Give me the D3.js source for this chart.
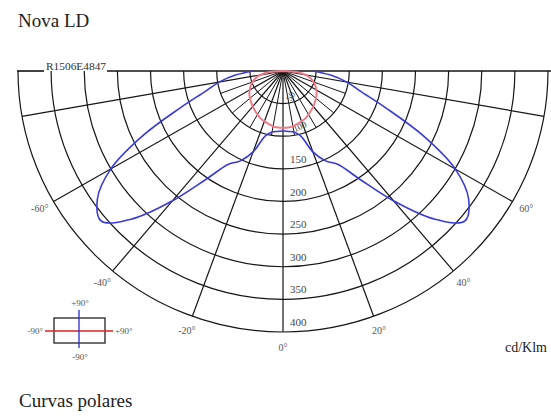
<!doctype html>
<html lang="en">
<head>
  <meta charset="utf-8">
  <script src="https://d3js.org/d3.v7.min.js"></script>
  <style>
    body { margin: 0; background: #fff; }
    text { font-family: "Liberation Serif", "Times New Roman", serif; }
  </style>
</head>
<body>
  <script>
    var width = 551,
        height = 416;

    // data (cd/klm)
    var rings = [50, 100, 150, 200, 250, 300, 350, 400];
    var majorAngles = [-80, -60, -40, -20, 0, 20, 40, 60, 80];
    var minorAngles = [-70, -50, -30, -10, 10, 30, 50, 70];
    var angleLabels = [-60, -40, -20, 0, 20, 40, 60];
    var curveAngles = [-90, -85, -80, -75, -70, -65, -60, -55, -50, -45, -40, -35, -30, -25, -20, -15, -10, -5, 0,
                       5, 10, 15, 20, 25, 30, 35, 40, 45, 50, 55, 60, 65, 70, 75, 80, 85, 90];
    var planeC0 = [45, 72, 98, 122, 165, 232, 300, 342, 358, 320, 260, 203, 165, 152, 132, 103, 95, 93, 92,
                   93, 95, 103, 132, 152, 165, 203, 260, 320, 358, 342, 300, 232, 165, 122, 98, 72, 45];
    var planeC90 = [0, 22, 35, 43, 49, 54, 58, 62, 65, 68, 71, 74, 77, 80, 82, 84, 86, 87, 87,
                    87, 86, 84, 82, 80, 77, 74, 71, 68, 65, 62, 58, 54, 49, 43, 35, 22, 0];

    var cx = 283, cy = 71;
    var rx = d3.scaleLinear().domain([0, 400]).range([0, 265]);
    var ry = d3.scaleLinear().domain([0, 400]).range([0, 261]);

    function px(a, v) { return cx + rx(v) * Math.sin(a * Math.PI / 180); }
    function py(a, v) { return cy + ry(v) * Math.cos(a * Math.PI / 180); }

    var svg = d3.select("body").append("svg")
        .attr("width", width)
        .attr("height", height);

    // titles
    svg.append("text").attr("x", 18).attr("y", 27)
        .style("font-size", "19px").style("fill", "#222").text("Nova LD");
    svg.append("text").attr("x", 19).attr("y", 407)
        .style("font-size", "19px").style("fill", "#222").text("Curvas polares");

    var grid = svg.append("g").style("fill", "none").style("stroke", "#151515");

    // rings (lower half ellipses)
    grid.selectAll("path.ring")
        .data(rings)
      .enter().append("path")
        .attr("class", "ring")
        .attr("d", function(d) {
          return "M" + (cx - rx(d)) + "," + cy + "A" + rx(d) + "," + ry(d) + " 0 0 0 " + (cx + rx(d)) + "," + cy;
        })
        .style("stroke-width", 1.2);

    // radial lines
    grid.selectAll("line.major")
        .data(majorAngles)
      .enter().append("line")
        .attr("x1", cx).attr("y1", cy)
        .attr("x2", function(d) { return px(d, 400); })
        .attr("y2", function(d) { return py(d, 400); })
        .style("stroke-width", 1.2);
    grid.selectAll("line.minor")
        .data(minorAngles)
      .enter().append("line")
        .attr("x1", cx).attr("y1", cy)
        .attr("x2", function(d) { return px(d, 100); })
        .attr("y2", function(d) { return py(d, 100); })
        .style("stroke-width", 1);

    // top axis line with the reference code
    grid.append("line").attr("x1", 17).attr("y1", cy).attr("x2", 44).attr("y2", cy).style("stroke-width", 1.6);
    grid.append("line").attr("x1", 107).attr("y1", cy).attr("x2", 551).attr("y2", cy).style("stroke-width", 1.6);
    svg.append("text").attr("x", 46).attr("y", 70)
        .attr("textLength", 60).attr("lengthAdjust", "spacingAndGlyphs")
        .style("font-size", "10px").style("fill", "#333").text("R1506E4847");

    // ring labels
    svg.selectAll("text.ring")
        .data(rings)
      .enter().append("text")
        .attr("class", "ring")
        .attr("transform", function(d) {
          if (d === 50) return "translate(" + (cx + 8) + "," + (cy + ry(d) - 2) + ") rotate(-60)";
          if (d === 100) return "translate(" + (cx + 12) + "," + (cy + ry(d) - 4) + ") rotate(-25)";
          return "translate(" + (cx + 7) + "," + (cy + ry(d) - 6) + ")";
        })
        .style("font-size", function(d) { return d <= 100 ? "9px" : "11px"; })
        .style("fill", "#444")
        .text(function(d) { return d; });

    // angle labels
    svg.selectAll("text.angle")
        .data(angleLabels)
      .enter().append("text")
        .attr("x", function(d) { return px(d, 424); })
        .attr("y", function(d) { return py(d, 424) + 3; })
        .attr("text-anchor", "middle")
        .style("font-size", "10px")
        .style("fill", "#555")
        .text(function(d) { return d + "\u00b0"; });

    // curves
    var line = d3.line()
        .x(function(d) { return px(d[0], d[1]); })
        .y(function(d) { return py(d[0], d[1]); })
        .curve(d3.curveCatmullRom);

    svg.append("path")
        .datum(d3.zip(curveAngles, planeC90))
        .attr("d", line)
        .style("fill", "none").style("stroke", "#ee7a86").style("stroke-width", 1.9);
    svg.append("path")
        .datum(d3.zip(curveAngles, planeC0))
        .attr("d", line)
        .style("fill", "none").style("stroke", "#3a3ad6").style("stroke-width", 1.6);

    // legend box
    var lg = svg.append("g");
    lg.append("rect").attr("x", 54).attr("y", 318).attr("width", 51).attr("height", 25)
        .style("fill", "none").style("stroke", "#222").style("stroke-width", 1.3);
    lg.append("line").attr("x1", 45).attr("y1", 331).attr("x2", 113).attr("y2", 331)
        .style("stroke", "#e02020").style("stroke-width", 1.3);
    lg.append("line").attr("x1", 79).attr("y1", 310).attr("x2", 79).attr("y2", 348)
        .style("stroke", "#2a2ad0").style("stroke-width", 1.3);
    var legendText = [["+90\u00b0", 80, 306, "middle"], ["-90\u00b0", 80, 360, "middle"],
                      ["-90\u00b0", 43, 334, "end"], ["+90\u00b0", 115, 334, "start"]];
    lg.selectAll("text")
        .data(legendText)
      .enter().append("text")
        .attr("x", function(d) { return d[1]; })
        .attr("y", function(d) { return d[2]; })
        .attr("text-anchor", function(d) { return d[3]; })
        .style("font-size", "9px").style("fill", "#555")
        .text(function(d) { return d[0]; });

    svg.append("text").attr("x", 547).attr("y", 352)
        .attr("text-anchor", "end")
        .style("font-size", "14px").style("fill", "#222").text("cd/Klm");
  </script>
</body>
</html>
